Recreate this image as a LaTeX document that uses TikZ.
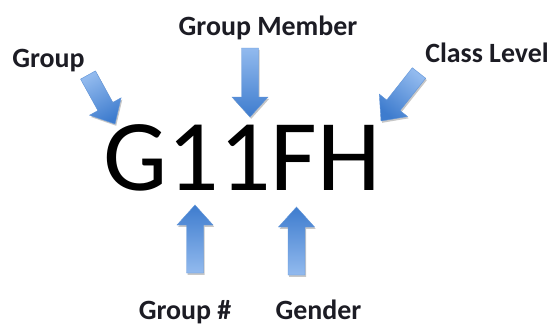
\documentclass[tikz,border=0pt]{standalone}
\usepackage{fontspec}
\setmainfont{Carlito}
\usetikzlibrary{calc,shadows}

\definecolor{arrowtip}{RGB}{62,124,206}
\definecolor{arrowtail}{RGB}{146,186,238}
\definecolor{arrowedge}{RGB}{96,148,216}
\definecolor{labelink}{RGB}{28,28,36}

% block arrow geometry
\def\shafthalf{8.5bp}
\def\headhalf{18bp}
\def\headlen{20bp}

\tikzset{
  labeltext/.style={font=\fontsize{28}{28}\selectfont\bfseries, text=labelink,
    inner sep=0pt, anchor=base},
  codetext/.style={font=\fontsize{102}{102}\selectfont, inner sep=0pt, anchor=base},
  blockarrow/.style={top color=arrowtip, bottom color=arrowtail, draw=arrowedge,
    line width=0.4bp, line join=miter,
    drop shadow={shadow xshift=1.2bp, shadow yshift=-1.8bp, opacity=0.22, fill=black}},
}

% \blockarrow{tail}{tip}: a wide shaded arrow from one named point to another
\newcommand\blockarrow[2]{%
  \pgfpointdiff{\pgfpointanchor{#1}{center}}{\pgfpointanchor{#2}{center}}%
  \pgfgetlastxy{\bax}{\bay}%
  \pgfmathsetmacro\bang{atan2(\bay,\bax)-90}%
  \coordinate (#1-neck) at ($(#2)!\headlen!(#1)$);
  \path[blockarrow, shading angle=\bang]
    ($(#1)!\shafthalf!90:(#2)$) -- ($(#1-neck)!\shafthalf!90:(#2)$)
    -- ($(#1-neck)!\headhalf!90:(#2)$) -- (#2)
    -- ($(#1-neck)!\headhalf!-90:(#2)$) -- ($(#1-neck)!\shafthalf!-90:(#2)$)
    -- ($(#1)!\shafthalf!-90:(#2)$) -- cycle;
}

\begin{document}
\begin{tikzpicture}[x=1bp, y=-1bp]
  \fill[white] (0,0) rectangle (552,328);
  \useasboundingbox (0,0) rectangle (552,328);

  % the code itself
  \node[codetext] (code) at (242,190) {G11FH};

  % labels
  \node[labeltext] (group)  at (48.5,67)  {Group};
  \node[labeltext] (member) at (268,35)   {Group Member};
  \node[labeltext] (level)  at (487,62)   {Class Level};
  \node[labeltext] (number) at (185,319)  {Group \#};
  \node[labeltext] (gender) at (318.5,319) {Gender};

  % arrow ends
  \coordinate (group-tail)  at (88,75);    \coordinate (group-tip)  at (115,124);
  \coordinate (member-tail) at (250,48);   \coordinate (member-tip) at (250,117);
  \coordinate (level-tail)  at (419,73);   \coordinate (level-tip)  at (381,121);
  \coordinate (number-tail) at (195,273);  \coordinate (number-tip) at (195,205);
  \coordinate (gender-tail) at (296.5,275);\coordinate (gender-tip) at (296.5,207);

  \blockarrow{group-tail}{group-tip}
  \blockarrow{member-tail}{member-tip}
  \blockarrow{level-tail}{level-tip}
  \blockarrow{number-tail}{number-tip}
  \blockarrow{gender-tail}{gender-tip}
\end{tikzpicture}
\end{document}
